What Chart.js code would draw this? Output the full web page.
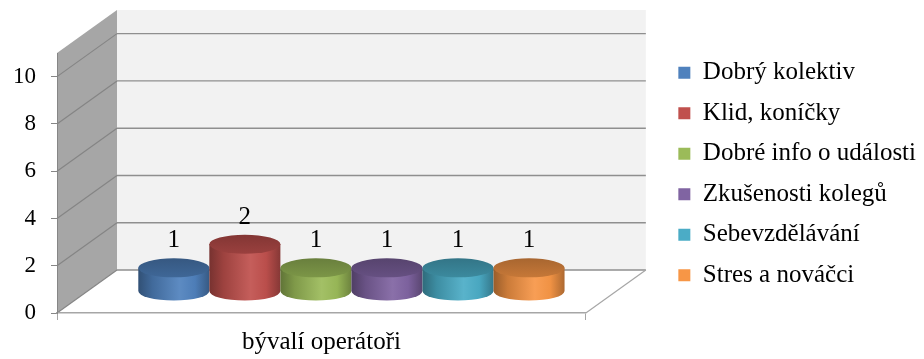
<!DOCTYPE html>
<html>
<head>
<meta charset="utf-8">
<script src="https://cdn.jsdelivr.net/npm/chart.js@4"></script>
<style>
  html, body { margin: 0; padding: 0; background: #ffffff; }
  canvas { display: block; }
</style>
</head>
<body>
<canvas id="chart" width="924" height="359"></canvas>
<script>
// Survey answers for the single respondent group
const categories = ['bývalí operátoři'];
const seriesNames = [
  'Dobrý kolektiv',
  'Klid, koníčky',
  'Dobré info o události',
  'Zkušenosti kolegů',
  'Sebevzdělávání',
  'Stres a nováčci'
];
const seriesValues = [[1], [2], [1], [1], [1], [1]];
const seriesColors = ['#4F81BD', '#C0504D', '#9BBB59', '#8064A2', '#4BACC6', '#F79646'];
const yTickValues = [0, 2, 4, 6, 8, 10];
const wallTopValue = 11;

const FONT = "'Liberation Serif', 'Times New Roman', serif";
const DEPTH = { dx: 60, dy: -43 };   // oblique offset from the front plane to the back wall
const RY = 9.5;                       // half-height of a cylinder end ellipse

function shade(hex, f) {
  const n = parseInt(hex.slice(1), 16);
  const ch = [(n >> 16) & 255, (n >> 8) & 255, n & 255].map(v => {
    const out = f > 1 ? v + (255 - v) * (f - 1) : v * f;
    return Math.max(0, Math.min(255, Math.round(out)));
  });
  return `rgb(${ch[0]},${ch[1]},${ch[2]})`;
}

function poly(ctx, pts) {
  ctx.beginPath();
  ctx.moveTo(pts[0][0], pts[0][1]);
  for (let i = 1; i < pts.length; i++) ctx.lineTo(pts[i][0], pts[i][1]);
  ctx.closePath();
}

function line(ctx, x1, y1, x2, y2, color, w) {
  ctx.beginPath();
  ctx.moveTo(x1, y1);
  ctx.lineTo(x2, y2);
  ctx.strokeStyle = color;
  ctx.lineWidth = w;
  ctx.stroke();
}

// Walls, floor and gridlines of the 3-D box, drawn behind everything else
const box3d = {
  id: 'box3d',
  afterLayout(chart) {
    // shift the legend column slightly up and to the right
    const lg = chart.legend;
    if (lg) { lg.top -= 9; lg.bottom -= 9; lg.left += 2; lg.right += 2; }
  },
  beforeDraw(chart) {
    const { ctx, chartArea: a, scales: { y } } = chart;
    const { dx, dy } = DEPTH;
    const L = a.left, R = a.right;
    const B = y.getPixelForValue(0), T = y.getPixelForValue(wallTopValue);
    ctx.save();
    // back wall
    ctx.fillStyle = '#f2f2f2';
    ctx.fillRect(L + dx, T + dy, R - L, B - T);
    // side wall
    poly(ctx, [[L, B], [L, T], [L + dx, T + dy], [L + dx, B + dy]]);
    ctx.fillStyle = '#a6a6a6';
    ctx.fill();
    // floor
    poly(ctx, [[L, B], [R, B], [R + dx, B + dy], [L + dx, B + dy]]);
    ctx.fillStyle = '#ffffff';
    ctx.fill();
    // gridlines on the side and back walls
    yTickValues.forEach(v => {
      const py = y.getPixelForValue(v);
      line(ctx, L, py, L + dx, py + dy, '#858585', 1.2);
      line(ctx, L + dx, py + dy, R + dx, py + dy, '#8f8f8f', 1.4);
    });
    // right edge of the floor
    line(ctx, R, B, R + dx, B + dy, '#a6a6a6', 1.2);
    ctx.restore();
  },
  beforeDatasetDraw() {
    return false; // bars are rendered as cylinders below
  },
  afterDatasetsDraw(chart) {
    const { ctx } = chart;
    const { dx, dy } = DEPTH;
    ctx.save();
    chart.data.datasets.forEach((ds, i) => {
      const meta = chart.getDatasetMeta(i);
      if (meta.hidden) return;
      meta.data.forEach((el, j) => {
        const p = el.getProps(['x', 'y', 'base', 'width'], true);
        const cx = p.x + dx / 2;
        const top = p.y + dy / 2;
        const bot = p.base + dy / 2;
        const rx = p.width / 2;
        const col = ds.backgroundColor;

        // body
        const g = ctx.createLinearGradient(cx - rx, 0, cx + rx, 0);
        g.addColorStop(0, shade(col, 0.62));
        g.addColorStop(0.2, shade(col, 0.82));
        g.addColorStop(0.58, shade(col, 1.08));
        g.addColorStop(0.8, shade(col, 0.97));
        g.addColorStop(1, shade(col, 0.7));
        ctx.beginPath();
        ctx.moveTo(cx - rx, top);
        ctx.lineTo(cx - rx, bot);
        ctx.ellipse(cx, bot, rx, RY, 0, Math.PI, 0, true);
        ctx.lineTo(cx + rx, top);
        ctx.closePath();
        ctx.fillStyle = g;
        ctx.fill();

        // top face
        const gt = ctx.createLinearGradient(0, top - RY, 0, top + RY);
        gt.addColorStop(0, shade(col, 0.68));
        gt.addColorStop(1, shade(col, 0.8));
        ctx.beginPath();
        ctx.ellipse(cx, top, rx, RY, 0, 0, Math.PI * 2);
        ctx.fillStyle = gt;
        ctx.fill();

        // value label
        ctx.fillStyle = '#000000';
        ctx.font = `25px ${FONT}`;
        ctx.textAlign = 'center';
        ctx.textBaseline = 'middle';
        ctx.fillText(String(ds.data[j]), cx, top - 27);
      });
    });
    ctx.restore();
  }
};

const datasets = seriesNames.map((name, i) => ({
  label: name,
  data: seriesValues[i],
  backgroundColor: seriesColors[i],
  borderWidth: 0
}));

new Chart(document.getElementById('chart'), {
  type: 'bar',
  data: { labels: categories, datasets },
  plugins: [box3d],
  options: {
    responsive: false,
    animation: false,
    events: [],
    layout: { padding: { top: 53, left: 0, right: 0, bottom: 0 } },
    datasets: { bar: { categoryPercentage: 0.806, barPercentage: 1 } },
    scales: {
      x: {
        type: 'category',
        grid: { drawOnChartArea: false, drawTicks: true, tickLength: 7, color: '#a6a6a6', offset: true },
        border: { display: true, color: '#a6a6a6', width: 1.5 },
        ticks: { color: '#000000', font: { family: FONT, size: 25 }, padding: 7 },
        afterFit(s) { s.height = 46; }
      },
      y: {
        min: 0,
        max: wallTopValue,
        afterBuildTicks(s) { s.ticks = yTickValues.map(v => ({ value: v })); },
        ticks: { color: '#000000', font: { family: FONT, size: 23 }, padding: 15 },
        grid: { drawOnChartArea: false, drawTicks: true, tickLength: 6, color: '#868686' },
        border: { display: true, color: '#868686' },
        afterFit(s) { s.width = 57; }
      },
      gap: {
        type: 'linear',
        position: 'right',
        grid: { display: false },
        border: { display: false },
        ticks: { display: false },
        afterFit(s) { s.width = 75; }
      }
    },
    plugins: {
      legend: {
        position: 'right',
        fullSize: false,
        maxWidth: 340,
        labels: {
          boxWidth: 12,
          boxHeight: 12,
          padding: 15.5,
          color: '#000000',
          font: { family: FONT, size: 25 }
        }
      },
      tooltip: { enabled: false }
    }
  }
});
</script>
</body>
</html>
